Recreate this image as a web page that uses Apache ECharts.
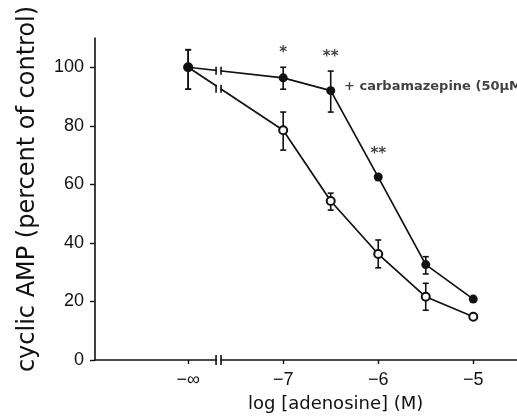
<!DOCTYPE html>
<html>
<head>
<meta charset="utf-8">
<script src="https://cdn.jsdelivr.net/npm/echarts@6/dist/echarts.min.js"></script>
<style>html,body{margin:0;padding:0;background:#fff}#c{width:517px;height:417px}</style>
</head>
<body>
<div id="c"></div>
<script>
// log[adenosine] positions; -8 stands for "-infinity" (no adenosine)
var doses = [-8, -7, -6.5, -6, -5.5, -5];
var carbamazepine = [100, 96.4, 92, 62.5, 32.6, 20.8];
var carbErrHigh   = [106, 100, 98.7, 62.5, 35.3, 20.8];
var carbErrLow    = [92.5, 92.5, 84.7, 62.5, 29.4, 20.8];
var control       = [100, 78.5, 54.3, 36.2, 21.6, 14.8];
var ctrlErrHigh   = [106, 84.7, 57, 41, 26.2, 14.8];
var ctrlErrLow    = [92.5, 71.7, 51.2, 31.5, 17, 14.8];
var xTickValues = [-8, -7, -6, -5];
var xTickLabels = ['\u2212\u221e', '\u22127', '\u22126', '\u22125'];
var yTickValues = [0, 20, 40, 60, 80, 100];
var axisBreakX = -7.68;
var breakMarks = [[axisBreakX, 98.8, 8], [axisBreakX, 92.7, 8], [axisBreakX, 0, 10]];
var stars = [[-7, 105, '*'], [-6.5, 103.6, '**'], [-6, 70.5, '**']];
var annot = [[-6.36, 93.5, '+ carbamazepine (50\u00b5M)']];

var ink = '#111';
function errData(high, low) {
  return doses.map(function (d, i) { return [d, low[i], high[i]]; })
    .filter(function (r) { return r[2] - r[1] > 0.01; });
}
function errRender(params, api) {
  var x = api.value(0);
  var lo = api.coord([x, api.value(1)]);
  var hi = api.coord([x, api.value(2)]);
  var w = 3;
  var st = { stroke: ink, lineWidth: 1.6 };
  return { type: 'group', children: [
    { type: 'line', shape: { x1: lo[0], y1: lo[1], x2: hi[0], y2: hi[1] }, style: st },
    { type: 'line', shape: { x1: lo[0] - w, y1: lo[1], x2: lo[0] + w, y2: lo[1] }, style: st },
    { type: 'line', shape: { x1: hi[0] - w, y1: hi[1], x2: hi[0] + w, y2: hi[1] }, style: st }
  ]};
}
function breakRender(params, api) {
  var p = api.coord([api.value(0), api.value(1)]);
  var h = api.value(2) / 2;
  var g = 2.5;
  var st = { stroke: ink, lineWidth: 1.6 };
  return { type: 'group', children: [
    { type: 'rect', shape: { x: p[0] - g + 0.8, y: p[1] - h, width: 2 * g - 1.6, height: 2 * h }, style: { fill: '#fff' } },
    { type: 'line', shape: { x1: p[0] - g, y1: p[1] - h, x2: p[0] - g, y2: p[1] + h }, style: st },
    { type: 'line', shape: { x1: p[0] + g, y1: p[1] - h, x2: p[0] + g, y2: p[1] + h }, style: st }
  ]};
}

var chart = echarts.init(document.getElementById('c'), null, { renderer: 'canvas' });
chart.setOption({
  animation: false,
  backgroundColor: '#fff',
  grid: { left: 95, right: 0, top: 38, bottom: 57 },
  xAxis: {
    type: 'value', min: -8.98, max: -4.54,
    splitLine: { show: false },
    axisLine: { lineStyle: { color: ink, width: 1.6 } },
    axisTick: { customValues: xTickValues, length: 4, lineStyle: { color: ink, width: 1.4 } },
    axisLabel: {
      customValues: xTickValues, margin: 11, color: ink,
      fontFamily: 'Liberation Sans', fontSize: 18,
      formatter: function (v) { var i = xTickValues.indexOf(v); return i >= 0 ? xTickLabels[i] : ''; }
    }
  },
  yAxis: {
    type: 'value', min: 0, max: 110,
    splitLine: { show: false },
    axisLine: { show: true, lineStyle: { color: ink, width: 1.6 } },
    axisTick: { show: true, customValues: yTickValues, length: 5, lineStyle: { color: ink, width: 1.4 } },
    axisLabel: { customValues: yTickValues, margin: 11, color: ink, fontFamily: 'Liberation Sans', fontSize: 18 }
  },
  graphic: [{
    type: 'text', left: 248, top: 395,
    style: { text: 'log [adenosine] (M)', fontFamily: 'DejaVu Sans', fontSize: 18, fill: ink }
  }, {
    type: 'text', x: 28, y: 189, rotation: Math.PI / 2,
    style: { text: 'cyclic AMP (percent of control)', fontFamily: 'DejaVu Sans', fontSize: 24,
      fill: ink, align: 'center', verticalAlign: 'middle' }
  }],
  series: [
    { type: 'custom', z: 1, renderItem: errRender, data: errData(ctrlErrHigh, ctrlErrLow), silent: true },
    { type: 'custom', z: 1, renderItem: errRender, data: errData(carbErrHigh, carbErrLow), silent: true },
    {
      name: 'control', type: 'line', z: 3,
      data: doses.map(function (d, i) { return [d, control[i]]; }),
      symbol: 'circle', symbolSize: 8,
      lineStyle: { color: ink, width: 1.7 },
      itemStyle: { color: '#fff', borderColor: ink, borderWidth: 2 }
    },
    {
      name: 'carbamazepine', type: 'line', z: 4,
      data: doses.map(function (d, i) { return [d, carbamazepine[i]]; }),
      symbol: 'circle', symbolSize: 9,
      lineStyle: { color: ink, width: 1.7 },
      itemStyle: { color: ink, borderColor: ink, borderWidth: 0 }
    },
    { type: 'custom', z: 5, renderItem: breakRender, data: breakMarks, silent: true, clip: false },
    {
      type: 'scatter', z: 6, symbolSize: 0, data: stars, silent: true,
      label: { show: true, position: 'inside', formatter: function (p) { return p.value[2]; },
        fontFamily: 'DejaVu Sans', fontWeight: 'bold', fontSize: 15, color: ink }
    },
    {
      type: 'scatter', z: 6, symbolSize: 0, data: annot, silent: true,
      label: { show: true, position: 'right', distance: 0, formatter: function (p) { return p.value[2]; },
        fontFamily: 'DejaVu Sans', fontWeight: 'bold', fontSize: 13, color: ink }
    }
  ]
});
</script>
</body>
</html>
